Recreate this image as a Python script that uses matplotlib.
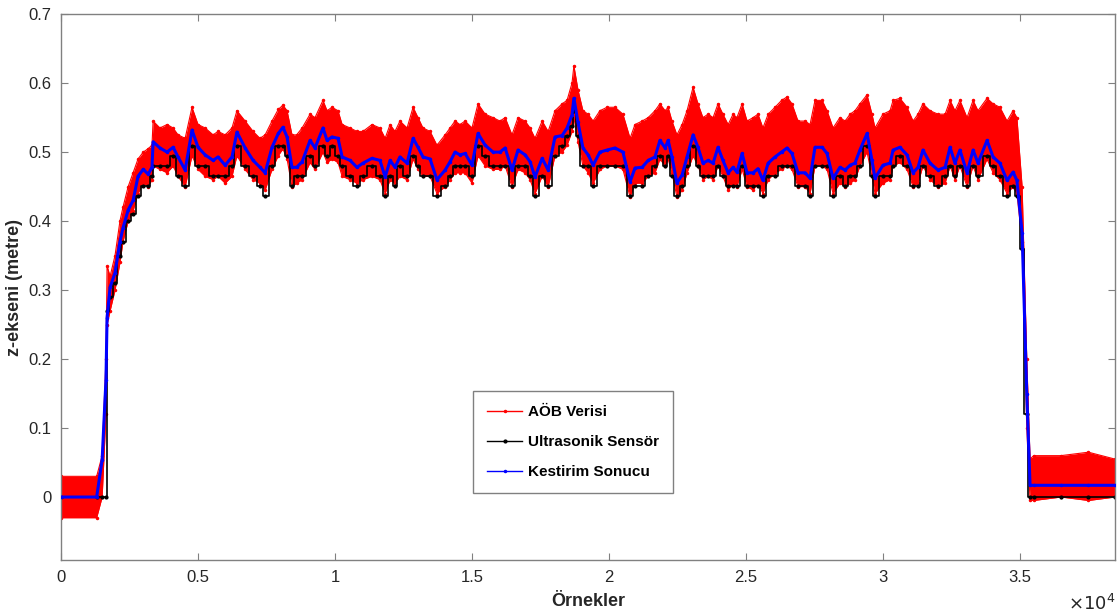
import numpy as np
import matplotlib.pyplot as plt

plt.rcParams['font.family'] = ['Liberation Sans', 'DejaVu Sans']

# Örnek indeksleri (okunan noktalar)
ornek = [0, 1300, 1500, 1640, 1680, 1790, 1970, 2150, 2260, 2450,
         2630, 2810, 3000, 3180, 3320, 3360, 3610, 3870, 4090, 4270,
         4530, 4780, 5000, 5260, 5550, 5730, 5990, 6240, 6420, 6720,
         7010, 7260, 7450, 7700, 7930, 8100, 8250, 8430, 8600, 8800,
         9090, 9270, 9560, 9710, 9890, 10110, 10260, 10550, 10800, 11020,
         11350, 11640, 11830, 12010, 12190, 12370, 12630, 12850, 13030, 13210,
         13470, 13720, 14020, 14200, 14380, 14560, 14750, 15000, 15220, 15480,
         15770, 16020, 16210, 16460, 16680, 16940, 17120, 17300, 17560, 17780,
         18030, 18290, 18470, 18650, 18720, 18870, 19050, 19240, 19420, 19670,
         19930, 20220, 20510, 20770, 20950, 21210, 21430, 21680, 21860, 22050,
         22160, 22300, 22480, 22670, 22850, 23070, 23250, 23430, 23620, 23800,
         23980, 24160, 24350, 24530, 24670, 24860, 25040, 25260, 25440, 25620,
         25810, 26060, 26300, 26500, 26680, 26900, 27160, 27340, 27520, 27780,
         27960, 28180, 28430, 28620, 28800, 28980, 29160, 29420, 29600, 29710,
         30000, 30260, 30370, 30620, 30880, 31100, 31280, 31460, 31720, 32010,
         32270, 32450, 32630, 32810, 33070, 33290, 33470, 33800, 34020, 34270,
         34530, 34750, 34890, 35080, 35250, 35370, 35500, 36500, 37500, 38470]

# Kestirim sonucu (mavi)
kestirim = [0.0, 0.0, 0.054, 0.17, 0.26, 0.304, 0.325, 0.37, 0.39, 0.416,
            0.43, 0.465, 0.475, 0.468, 0.478, 0.515, 0.506, 0.500, 0.507, 0.493,
            0.474, 0.532, 0.507, 0.496, 0.488, 0.493, 0.481, 0.493, 0.529, 0.506,
            0.488, 0.478, 0.470, 0.507, 0.527, 0.536, 0.522, 0.478, 0.478, 0.486,
            0.517, 0.506, 0.535, 0.517, 0.522, 0.520, 0.493, 0.488, 0.478, 0.484,
            0.491, 0.488, 0.464, 0.488, 0.478, 0.493, 0.484, 0.520, 0.507, 0.493,
            0.490, 0.460, 0.474, 0.486, 0.500, 0.496, 0.498, 0.481, 0.527, 0.510,
            0.500, 0.500, 0.506, 0.474, 0.503, 0.496, 0.486, 0.464, 0.491, 0.474,
            0.522, 0.524, 0.535, 0.554, 0.578, 0.543, 0.506, 0.496, 0.481, 0.500,
            0.503, 0.506, 0.500, 0.457, 0.477, 0.478, 0.488, 0.493, 0.517, 0.506,
            0.517, 0.493, 0.455, 0.467, 0.493, 0.525, 0.507, 0.484, 0.488, 0.484,
            0.507, 0.488, 0.470, 0.478, 0.471, 0.498, 0.470, 0.470, 0.476, 0.459,
            0.484, 0.493, 0.500, 0.506, 0.498, 0.470, 0.470, 0.462, 0.507, 0.507,
            0.498, 0.462, 0.478, 0.474, 0.481, 0.484, 0.503, 0.527, 0.488, 0.462,
            0.481, 0.484, 0.503, 0.507, 0.496, 0.470, 0.478, 0.503, 0.484, 0.474,
            0.478, 0.507, 0.484, 0.503, 0.470, 0.503, 0.484, 0.517, 0.493, 0.484,
            0.459, 0.471, 0.459, 0.383, 0.15, 0.017, 0.017, 0.017, 0.017, 0.017]

# AÖB verisi: üst ve alt zarf (kırmızı)
aob_ust = [0.03, 0.03, 0.06, 0.20, 0.335, 0.32, 0.35, 0.40, 0.42, 0.45,
           0.47, 0.49, 0.50, 0.505, 0.51, 0.545, 0.535, 0.54, 0.535, 0.525,
           0.52, 0.565, 0.54, 0.535, 0.525, 0.53, 0.525, 0.535, 0.56, 0.545,
           0.53, 0.52, 0.525, 0.545, 0.562, 0.568, 0.56, 0.525, 0.525, 0.535,
           0.555, 0.55, 0.575, 0.56, 0.565, 0.56, 0.54, 0.535, 0.53, 0.53,
           0.54, 0.535, 0.52, 0.54, 0.53, 0.545, 0.535, 0.565, 0.55, 0.535,
           0.53, 0.51, 0.525, 0.535, 0.545, 0.54, 0.545, 0.535, 0.57, 0.555,
           0.55, 0.545, 0.55, 0.525, 0.55, 0.545, 0.535, 0.52, 0.545, 0.53,
           0.56, 0.57, 0.575, 0.60, 0.625, 0.59, 0.56, 0.555, 0.545, 0.56,
           0.565, 0.565, 0.555, 0.52, 0.54, 0.545, 0.55, 0.56, 0.57, 0.56,
           0.565, 0.545, 0.525, 0.54, 0.56, 0.594, 0.57, 0.55, 0.555, 0.55,
           0.57, 0.555, 0.54, 0.555, 0.55, 0.57, 0.545, 0.55, 0.555, 0.535,
           0.555, 0.565, 0.575, 0.58, 0.57, 0.545, 0.545, 0.54, 0.575, 0.575,
           0.56, 0.535, 0.55, 0.545, 0.555, 0.56, 0.57, 0.583, 0.555, 0.535,
           0.555, 0.56, 0.575, 0.578, 0.565, 0.545, 0.555, 0.57, 0.56, 0.555,
           0.555, 0.575, 0.56, 0.575, 0.55, 0.575, 0.56, 0.578, 0.57, 0.565,
           0.545, 0.56, 0.55, 0.45, 0.20, 0.055, 0.06, 0.06, 0.065, 0.055]

aob_alt = [-0.03, -0.03, 0.0, 0.12, 0.25, 0.27, 0.30, 0.34, 0.37, 0.40,
           0.415, 0.44, 0.455, 0.45, 0.46, 0.48, 0.475, 0.47, 0.48, 0.465,
           0.45, 0.495, 0.475, 0.465, 0.46, 0.465, 0.455, 0.465, 0.495, 0.475,
           0.46, 0.455, 0.445, 0.475, 0.495, 0.505, 0.49, 0.45, 0.455, 0.46,
           0.485, 0.475, 0.5, 0.485, 0.49, 0.485, 0.465, 0.46, 0.455, 0.46,
           0.465, 0.46, 0.44, 0.46, 0.455, 0.465, 0.46, 0.49, 0.475, 0.465,
           0.465, 0.44, 0.45, 0.46, 0.47, 0.47, 0.47, 0.455, 0.495, 0.48,
           0.475, 0.475, 0.48, 0.45, 0.475, 0.47, 0.46, 0.44, 0.465, 0.45,
           0.495, 0.5, 0.51, 0.53, 0.55, 0.515, 0.48, 0.47, 0.455, 0.475,
           0.48, 0.48, 0.475, 0.435, 0.455, 0.455, 0.465, 0.47, 0.49, 0.48,
           0.49, 0.47, 0.435, 0.445, 0.47, 0.495, 0.48, 0.46, 0.465, 0.46,
           0.48, 0.465, 0.445, 0.455, 0.45, 0.475, 0.45, 0.445, 0.455, 0.44,
           0.46, 0.47, 0.475, 0.48, 0.475, 0.45, 0.45, 0.44, 0.48, 0.48,
           0.475, 0.44, 0.455, 0.45, 0.455, 0.46, 0.48, 0.5, 0.465, 0.44,
           0.455, 0.46, 0.48, 0.485, 0.475, 0.45, 0.455, 0.48, 0.46, 0.45,
           0.455, 0.48, 0.46, 0.48, 0.45, 0.48, 0.46, 0.49, 0.47, 0.46,
           0.44, 0.45, 0.44, 0.37, 0.10, -0.005, -0.005, 0.0, -0.005, 0.0]

# Ultrasonik sensör (siyah, basamaklı)
ultrasonik = [0.0, 0.0, 0.0, 0.0, 0.27, 0.29, 0.31, 0.35, 0.37, 0.40,
              0.41, 0.436, 0.451, 0.451, 0.465, 0.480, 0.480, 0.480, 0.494, 0.465,
              0.451, 0.509, 0.480, 0.480, 0.465, 0.465, 0.465, 0.480, 0.509, 0.480,
              0.465, 0.451, 0.436, 0.480, 0.509, 0.509, 0.494, 0.451, 0.465, 0.465,
              0.494, 0.480, 0.509, 0.494, 0.509, 0.494, 0.480, 0.465, 0.451, 0.465,
              0.480, 0.465, 0.436, 0.465, 0.451, 0.480, 0.465, 0.494, 0.480, 0.465,
              0.465, 0.436, 0.451, 0.465, 0.480, 0.480, 0.480, 0.465, 0.509, 0.494,
              0.480, 0.480, 0.480, 0.451, 0.480, 0.480, 0.465, 0.436, 0.465, 0.451,
              0.494, 0.509, 0.523, 0.538, 0.560, 0.523, 0.480, 0.480, 0.451, 0.480,
              0.480, 0.480, 0.480, 0.436, 0.451, 0.451, 0.465, 0.480, 0.494, 0.480,
              0.494, 0.465, 0.436, 0.451, 0.480, 0.509, 0.480, 0.465, 0.465, 0.465,
              0.480, 0.465, 0.451, 0.451, 0.451, 0.480, 0.451, 0.451, 0.451, 0.436,
              0.465, 0.465, 0.480, 0.480, 0.480, 0.451, 0.451, 0.436, 0.480, 0.480,
              0.480, 0.436, 0.465, 0.451, 0.465, 0.465, 0.480, 0.509, 0.465, 0.436,
              0.465, 0.465, 0.480, 0.494, 0.480, 0.451, 0.451, 0.480, 0.465, 0.451,
              0.465, 0.480, 0.465, 0.480, 0.451, 0.480, 0.465, 0.494, 0.480, 0.465,
              0.436, 0.451, 0.436, 0.36, 0.12, 0.0, 0.0, 0.0, 0.0, 0.0]

x_ticks = [0, 5000, 10000, 15000, 20000, 25000, 30000, 35000]
x_tick_labels = ['0', '0.5', '1', '1.5', '2', '2.5', '3', '3.5']
y_ticks = [0, 0.1, 0.2, 0.3, 0.4, 0.5, 0.6, 0.7]

fig = plt.figure(figsize=(11.18, 6.15), dpi=100, facecolor='white')
ax = fig.add_axes([0.0546, 0.0894, 0.9427, 0.8876])

# AÖB verisi: gürültülü bant
ax.fill_between(ornek, aob_alt, aob_ust, color='red', linewidth=0, zorder=1)
ax.plot(ornek, aob_ust, color='red', marker='.', markersize=3, linewidth=0.8, zorder=1,
        label='AÖB Verisi')
ax.plot(ornek, aob_alt, color='red', marker='.', markersize=3, linewidth=0.8, zorder=1)

# Ultrasonik sensör
ax.plot(ornek, ultrasonik, color='black', marker='.', markersize=4, linewidth=1.2,
        drawstyle='steps-mid', zorder=2, label='Ultrasonik Sensör')

# Kestirim sonucu
ax.plot(ornek, kestirim, color='blue', marker='.', markersize=3, linewidth=2.2, zorder=3,
        label='Kestirim Sonucu')

ax.set_xlim(0, 38470)
ax.set_ylim(-0.0913, 0.7)
ax.set_xticks(x_ticks)
ax.set_xticklabels(x_tick_labels)
ax.set_yticks(y_ticks)
ax.set_yticklabels(['0', '0.1', '0.2', '0.3', '0.4', '0.5', '0.6', '0.7'])
ax.tick_params(direction='in', length=5, width=0.8, color='#808080', labelcolor='#262626',
               labelsize=12, top=True, right=True, pad=7)
for s in ax.spines.values():
    s.set_color('#808080')
    s.set_linewidth(1)

ax.set_xlabel('Örnekler', fontsize=13, fontweight='bold', color='#262626', labelpad=6)
ax.set_ylabel('z-ekseni (metre)', fontsize=13, fontweight='bold', color='#262626', labelpad=4)
ax.text(1.0, -0.08, r'$\times10^4$', transform=ax.transAxes, ha='right', va='center',
        fontsize=13, color='#262626')

leg = ax.legend(loc='center', bbox_to_anchor=(0.486, 0.216), fancybox=False,
                edgecolor='#808080', framealpha=1, handlelength=2.3, handletextpad=0.4,
                labelspacing=1.05, borderpad=0.9, prop={'weight': 'bold', 'size': 11})
leg.get_frame().set_linewidth(1)
for line in leg.get_lines():
    line.set_linewidth(1)

plt.savefig('out.png', dpi=100)
